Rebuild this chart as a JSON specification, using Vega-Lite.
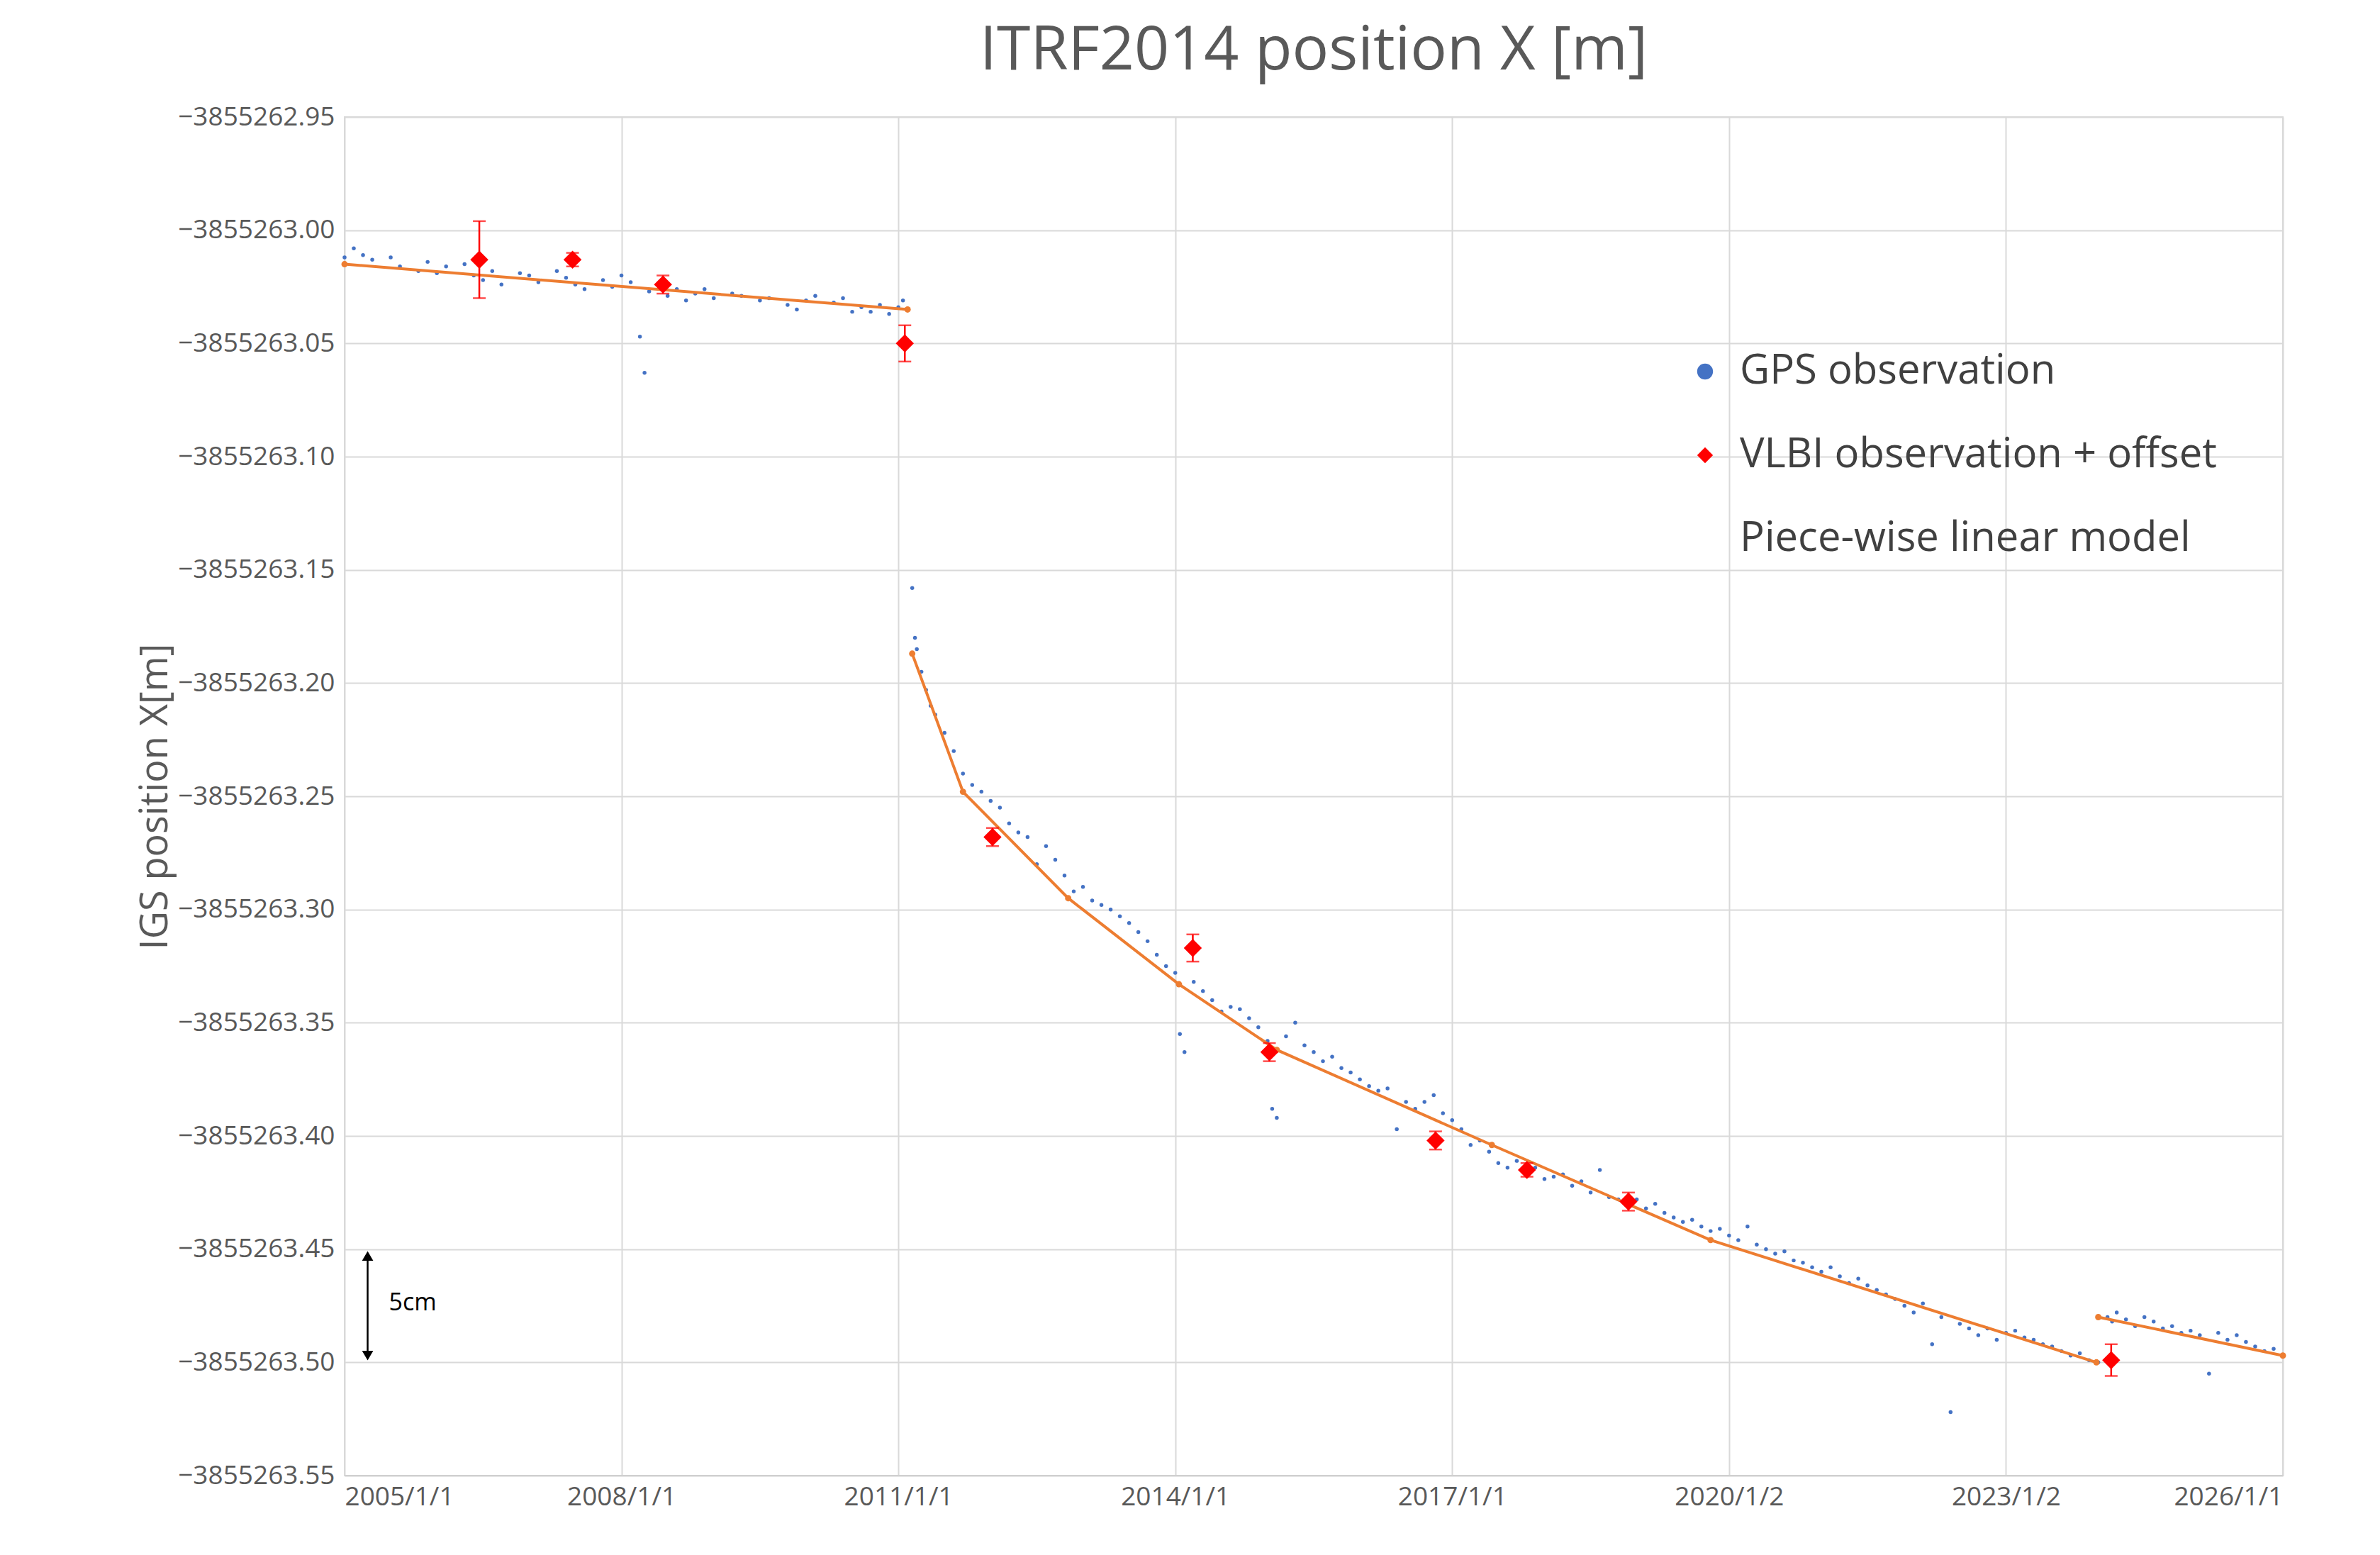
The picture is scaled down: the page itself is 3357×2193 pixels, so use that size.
{
  "$schema": "https://vega.github.io/schema/vega-lite/v6.json",
  "autosize": {"type": "none"},
  "padding": {"left": 486, "top": 165, "right": 137, "bottom": 112},
  "width": 2734,
  "height": 1916,
  "background": "white",
  "title": {"text": "ITRF2014 position X [m]", "fontSize": 86, "font": "Open Sans", "fontWeight": "normal", "color": "#595959", "offset": 30},
  "config": {
    "font": "Open Sans",
    "view": {"stroke": "#D9D9D9", "strokeWidth": 2},
    "axis": {"labelFont": "Open Sans", "titleFont": "Open Sans", "labelColor": "#595959", "titleColor": "#595959", "gridColor": "#D9D9D9", "gridWidth": 2, "domainColor": "#BFBFBF", "tickColor": "#BFBFBF", "titleFontWeight": "normal", "labelLimit": 0, "labelOverlap": false}
  },
  "datasets": {
    "gps": [
      {"t": 2005.0, "v": -3855263.012}, {"t": 2005.1, "v": -3855263.008}, {"t": 2005.2, "v": -3855263.011}, {"t": 2005.3, "v": -3855263.013},
      {"t": 2005.5, "v": -3855263.012}, {"t": 2005.6, "v": -3855263.016}, {"t": 2005.8, "v": -3855263.018}, {"t": 2005.9, "v": -3855263.014},
      {"t": 2006.0, "v": -3855263.019}, {"t": 2006.1, "v": -3855263.016}, {"t": 2006.3, "v": -3855263.015}, {"t": 2006.4, "v": -3855263.020},
      {"t": 2006.5, "v": -3855263.022}, {"t": 2006.6, "v": -3855263.018}, {"t": 2006.7, "v": -3855263.024}, {"t": 2006.9, "v": -3855263.019},
      {"t": 2007.0, "v": -3855263.020}, {"t": 2007.1, "v": -3855263.023}, {"t": 2007.3, "v": -3855263.018}, {"t": 2007.4, "v": -3855263.021},
      {"t": 2007.5, "v": -3855263.024}, {"t": 2007.6, "v": -3855263.026}, {"t": 2007.8, "v": -3855263.022}, {"t": 2007.9, "v": -3855263.025},
      {"t": 2008.0, "v": -3855263.020}, {"t": 2008.1, "v": -3855263.023}, {"t": 2008.2, "v": -3855263.047}, {"t": 2008.25, "v": -3855263.063},
      {"t": 2008.3, "v": -3855263.027}, {"t": 2008.4, "v": -3855263.024}, {"t": 2008.5, "v": -3855263.029}, {"t": 2008.6, "v": -3855263.026},
      {"t": 2008.7, "v": -3855263.031}, {"t": 2008.8, "v": -3855263.028}, {"t": 2008.9, "v": -3855263.026}, {"t": 2009.0, "v": -3855263.030},
      {"t": 2009.2, "v": -3855263.028}, {"t": 2009.3, "v": -3855263.029}, {"t": 2009.5, "v": -3855263.031}, {"t": 2009.6, "v": -3855263.030},
      {"t": 2009.8, "v": -3855263.033}, {"t": 2009.9, "v": -3855263.035}, {"t": 2010.0, "v": -3855263.031}, {"t": 2010.1, "v": -3855263.029},
      {"t": 2010.3, "v": -3855263.032}, {"t": 2010.4, "v": -3855263.030}, {"t": 2010.5, "v": -3855263.036}, {"t": 2010.6, "v": -3855263.034},
      {"t": 2010.7, "v": -3855263.036}, {"t": 2010.8, "v": -3855263.033}, {"t": 2010.9, "v": -3855263.037}, {"t": 2011.0, "v": -3855263.034},
      {"t": 2011.05, "v": -3855263.031},
      {"t": 2011.15, "v": -3855263.158}, {"t": 2011.18, "v": -3855263.180}, {"t": 2011.2, "v": -3855263.185}, {"t": 2011.25, "v": -3855263.195},
      {"t": 2011.3, "v": -3855263.203}, {"t": 2011.35, "v": -3855263.210}, {"t": 2011.4, "v": -3855263.214}, {"t": 2011.5, "v": -3855263.222},
      {"t": 2011.6, "v": -3855263.230}, {"t": 2011.7, "v": -3855263.240}, {"t": 2011.8, "v": -3855263.245}, {"t": 2011.9, "v": -3855263.248},
      {"t": 2012.0, "v": -3855263.252}, {"t": 2012.1, "v": -3855263.255}, {"t": 2012.2, "v": -3855263.262}, {"t": 2012.3, "v": -3855263.266},
      {"t": 2012.4, "v": -3855263.268}, {"t": 2012.5, "v": -3855263.280}, {"t": 2012.6, "v": -3855263.272}, {"t": 2012.7, "v": -3855263.278},
      {"t": 2012.8, "v": -3855263.285}, {"t": 2012.9, "v": -3855263.292}, {"t": 2013.0, "v": -3855263.290}, {"t": 2013.1, "v": -3855263.296},
      {"t": 2013.2, "v": -3855263.298}, {"t": 2013.3, "v": -3855263.300}, {"t": 2013.4, "v": -3855263.303}, {"t": 2013.5, "v": -3855263.306},
      {"t": 2013.6, "v": -3855263.310}, {"t": 2013.7, "v": -3855263.314}, {"t": 2013.8, "v": -3855263.320}, {"t": 2013.9, "v": -3855263.325},
      {"t": 2014.0, "v": -3855263.328}, {"t": 2014.05, "v": -3855263.355}, {"t": 2014.1, "v": -3855263.363}, {"t": 2014.2, "v": -3855263.332},
      {"t": 2014.3, "v": -3855263.336}, {"t": 2014.4, "v": -3855263.340}, {"t": 2014.5, "v": -3855263.345}, {"t": 2014.6, "v": -3855263.343},
      {"t": 2014.7, "v": -3855263.344}, {"t": 2014.8, "v": -3855263.348}, {"t": 2014.9, "v": -3855263.352}, {"t": 2015.0, "v": -3855263.358},
      {"t": 2015.05, "v": -3855263.388}, {"t": 2015.1, "v": -3855263.392}, {"t": 2015.2, "v": -3855263.356}, {"t": 2015.3, "v": -3855263.350},
      {"t": 2015.4, "v": -3855263.360}, {"t": 2015.5, "v": -3855263.363}, {"t": 2015.6, "v": -3855263.367}, {"t": 2015.7, "v": -3855263.365},
      {"t": 2015.8, "v": -3855263.370}, {"t": 2015.9, "v": -3855263.372}, {"t": 2016.0, "v": -3855263.375}, {"t": 2016.1, "v": -3855263.378},
      {"t": 2016.2, "v": -3855263.380}, {"t": 2016.3, "v": -3855263.379}, {"t": 2016.4, "v": -3855263.397}, {"t": 2016.5, "v": -3855263.385},
      {"t": 2016.6, "v": -3855263.388}, {"t": 2016.7, "v": -3855263.385}, {"t": 2016.8, "v": -3855263.382}, {"t": 2016.9, "v": -3855263.390},
      {"t": 2017.0, "v": -3855263.393}, {"t": 2017.1, "v": -3855263.397}, {"t": 2017.2, "v": -3855263.404}, {"t": 2017.3, "v": -3855263.402},
      {"t": 2017.4, "v": -3855263.407}, {"t": 2017.5, "v": -3855263.412}, {"t": 2017.6, "v": -3855263.414}, {"t": 2017.7, "v": -3855263.411},
      {"t": 2017.8, "v": -3855263.416}, {"t": 2017.9, "v": -3855263.414}, {"t": 2018.0, "v": -3855263.419}, {"t": 2018.1, "v": -3855263.418},
      {"t": 2018.2, "v": -3855263.417}, {"t": 2018.3, "v": -3855263.422}, {"t": 2018.4, "v": -3855263.420}, {"t": 2018.5, "v": -3855263.425},
      {"t": 2018.6, "v": -3855263.415}, {"t": 2018.7, "v": -3855263.427}, {"t": 2018.8, "v": -3855263.428}, {"t": 2018.9, "v": -3855263.430},
      {"t": 2019.0, "v": -3855263.428}, {"t": 2019.1, "v": -3855263.432}, {"t": 2019.2, "v": -3855263.430}, {"t": 2019.3, "v": -3855263.434},
      {"t": 2019.4, "v": -3855263.436}, {"t": 2019.5, "v": -3855263.438}, {"t": 2019.6, "v": -3855263.437}, {"t": 2019.7, "v": -3855263.440},
      {"t": 2019.8, "v": -3855263.442}, {"t": 2019.9, "v": -3855263.441}, {"t": 2020.0, "v": -3855263.444}, {"t": 2020.1, "v": -3855263.446},
      {"t": 2020.2, "v": -3855263.440}, {"t": 2020.3, "v": -3855263.448}, {"t": 2020.4, "v": -3855263.450}, {"t": 2020.5, "v": -3855263.452},
      {"t": 2020.6, "v": -3855263.451}, {"t": 2020.7, "v": -3855263.455}, {"t": 2020.8, "v": -3855263.456}, {"t": 2020.9, "v": -3855263.458},
      {"t": 2021.0, "v": -3855263.460}, {"t": 2021.1, "v": -3855263.458}, {"t": 2021.2, "v": -3855263.462}, {"t": 2021.3, "v": -3855263.465},
      {"t": 2021.4, "v": -3855263.463}, {"t": 2021.5, "v": -3855263.466}, {"t": 2021.6, "v": -3855263.468}, {"t": 2021.7, "v": -3855263.470},
      {"t": 2021.8, "v": -3855263.472}, {"t": 2021.9, "v": -3855263.475}, {"t": 2022.0, "v": -3855263.478}, {"t": 2022.1, "v": -3855263.474},
      {"t": 2022.2, "v": -3855263.492}, {"t": 2022.3, "v": -3855263.480}, {"t": 2022.4, "v": -3855263.522}, {"t": 2022.5, "v": -3855263.483},
      {"t": 2022.6, "v": -3855263.485}, {"t": 2022.7, "v": -3855263.488}, {"t": 2022.8, "v": -3855263.485}, {"t": 2022.9, "v": -3855263.490},
      {"t": 2023.0, "v": -3855263.487}, {"t": 2023.1, "v": -3855263.486}, {"t": 2023.2, "v": -3855263.489}, {"t": 2023.3, "v": -3855263.490},
      {"t": 2023.4, "v": -3855263.492}, {"t": 2023.5, "v": -3855263.493}, {"t": 2023.6, "v": -3855263.495}, {"t": 2023.7, "v": -3855263.497},
      {"t": 2023.8, "v": -3855263.496}, {"t": 2023.9, "v": -3855263.499}, {"t": 2024.0, "v": -3855263.500},
      {"t": 2024.1, "v": -3855263.480}, {"t": 2024.15, "v": -3855263.482}, {"t": 2024.2, "v": -3855263.478}, {"t": 2024.3, "v": -3855263.481},
      {"t": 2024.4, "v": -3855263.484}, {"t": 2024.5, "v": -3855263.480}, {"t": 2024.6, "v": -3855263.482}, {"t": 2024.7, "v": -3855263.485},
      {"t": 2024.8, "v": -3855263.484}, {"t": 2024.9, "v": -3855263.487}, {"t": 2025.0, "v": -3855263.486}, {"t": 2025.1, "v": -3855263.488},
      {"t": 2025.2, "v": -3855263.505}, {"t": 2025.3, "v": -3855263.487}, {"t": 2025.4, "v": -3855263.490}, {"t": 2025.5, "v": -3855263.488},
      {"t": 2025.6, "v": -3855263.491}, {"t": 2025.7, "v": -3855263.493}, {"t": 2025.8, "v": -3855263.495}, {"t": 2025.9, "v": -3855263.494},
      {"t": 2026.0, "v": -3855263.497}
    ],
    "model": [
      {"seg": 1, "t": 2005.0, "v": -3855263.015}, {"seg": 1, "t": 2011.1, "v": -3855263.035},
      {"seg": 2, "t": 2011.15, "v": -3855263.187}, {"seg": 2, "t": 2011.7, "v": -3855263.248}, {"seg": 2, "t": 2012.84, "v": -3855263.295},
      {"seg": 2, "t": 2014.04, "v": -3855263.333}, {"seg": 2, "t": 2015.1, "v": -3855263.362}, {"seg": 2, "t": 2017.43, "v": -3855263.404},
      {"seg": 2, "t": 2019.8, "v": -3855263.446}, {"seg": 2, "t": 2023.98, "v": -3855263.500},
      {"seg": 3, "t": 2024.0, "v": -3855263.480}, {"seg": 3, "t": 2026.0, "v": -3855263.497}
    ],
    "vlbi": [
      {"t": 2006.46, "v": -3855263.013, "lo": -3855263.030, "hi": -3855262.996},
      {"t": 2007.47, "v": -3855263.013, "lo": -3855263.016, "hi": -3855263.010},
      {"t": 2008.45, "v": -3855263.024, "lo": -3855263.028, "hi": -3855263.020},
      {"t": 2011.07, "v": -3855263.050, "lo": -3855263.058, "hi": -3855263.042},
      {"t": 2012.02, "v": -3855263.268, "lo": -3855263.272, "hi": -3855263.264},
      {"t": 2014.19, "v": -3855263.317, "lo": -3855263.323, "hi": -3855263.311},
      {"t": 2015.02, "v": -3855263.363, "lo": -3855263.367, "hi": -3855263.359},
      {"t": 2016.82, "v": -3855263.402, "lo": -3855263.406, "hi": -3855263.398},
      {"t": 2017.81, "v": -3855263.415, "lo": -3855263.418, "hi": -3855263.412},
      {"t": 2018.91, "v": -3855263.429, "lo": -3855263.433, "hi": -3855263.425},
      {"t": 2024.14, "v": -3855263.499, "lo": -3855263.506, "hi": -3855263.492}
    ],
    "scale": [
      {"t": 2005.25, "lo": -3855263.497, "hi": -3855263.453, "mid": -3855263.474, "label": "5cm"}
    ]
  },
  "encoding": {
    "x": {"field": "t", "type": "quantitative", "scale": {"domain": [2005, 2026], "nice": false, "zero": false},
      "axis": {"title": null, "values": [2005, 2008, 2011, 2014, 2017, 2020, 2023, 2026], "labelFontSize": 37, "labelPadding": 12, "tickSize": 0,
        "labelExpr": "datum.value == 2020 || datum.value == 2023 ? datum.value + '/1/2' : datum.value + '/1/1'"}}
  },
  "layer": [
    {
      "data": {"name": "gps"},
      "mark": {"type": "point", "filled": true, "size": 30, "opacity": 1},
      "encoding": {
        "y": {"field": "v", "type": "quantitative", "scale": {"domain": [-3855263.55, -3855262.95], "nice": false, "zero": false},
          "axis": {"title": "IGS position X[m]", "titleFontSize": 54, "titlePadding": 40, "format": ".2f", "labelFontSize": 37, "values": [-3855263.55, -3855263.5, -3855263.45, -3855263.4, -3855263.35, -3855263.3, -3855263.25, -3855263.2, -3855263.15, -3855263.1, -3855263.05, -3855263.0, -3855262.95], "tickSize": 0, "labelPadding": 14, "domain": false}},
        "color": {"datum": "GPS observation", "type": "nominal",
          "scale": {"domain": ["GPS observation", "VLBI observation + offset", "Piece-wise linear model"], "range": ["#4472C4", "#FF0000", "#ED7D31"]},
          "legend": {"title": null, "orient": "none", "legendX": 1890, "legendY": 330, "labelFontSize": 58, "labelColor": "#404040", "labelFont": "Open Sans",
            "labelLimit": 0, "rowPadding": 60, "symbolSize": 500, "labelOffset": 20,
            "encode": {"symbols": {"update": {
              "stroke": {"scale": "color", "field": "value"},
              "strokeWidth": {"signal": "datum.value == 'Piece-wise linear model' ? 5 : 0"},
              "size": {"signal": "datum.value == 'GPS observation' ? 40 : datum.value == 'VLBI observation + offset' ? 500 : 1200"}
            }}}}},
        "shape": {"datum": "GPS observation", "type": "nominal",
          "scale": {"domain": ["GPS observation", "VLBI observation + offset", "Piece-wise linear model"], "range": ["circle", "diamond", "M-1,0L1,0"]},
          "legend": null}
      }
    },
    {
      "data": {"name": "model"},
      "mark": {"type": "line", "strokeWidth": 4, "color": "#ED7D31", "point": {"filled": true, "size": 80, "color": "#ED7D31"}},
      "encoding": {"y": {"field": "v", "type": "quantitative"}, "detail": {"field": "seg"}}
    },
    {
      "data": {"name": "vlbi"},
      "mark": {"type": "rule", "color": "#FF0000", "strokeWidth": 2.5},
      "encoding": {"y": {"field": "lo", "type": "quantitative"}, "y2": {"field": "hi"}}
    },
    {
      "data": {"name": "vlbi"},
      "mark": {"type": "tick", "orient": "horizontal", "color": "#FF0000", "size": 18, "thickness": 2.5},
      "encoding": {"y": {"field": "lo", "type": "quantitative"}}
    },
    {
      "data": {"name": "vlbi"},
      "mark": {"type": "tick", "orient": "horizontal", "color": "#FF0000", "size": 18, "thickness": 2.5},
      "encoding": {"y": {"field": "hi", "type": "quantitative"}}
    },
    {
      "data": {"name": "vlbi"},
      "mark": {"type": "point", "filled": true, "size": 650, "opacity": 1},
      "encoding": {
        "y": {"field": "v", "type": "quantitative"},
        "color": {"datum": "VLBI observation + offset", "type": "nominal"},
        "shape": {"datum": "VLBI observation + offset", "type": "nominal"}
      }
    },
    {
      "data": {"values": [{"t": 2030, "v": -3855263.0}]},
      "mark": {"type": "point", "filled": true, "size": 0, "opacity": 0},
      "encoding": {
        "y": {"field": "v", "type": "quantitative"},
        "color": {"datum": "Piece-wise linear model", "type": "nominal"},
        "shape": {"datum": "Piece-wise linear model", "type": "nominal"}
      }
    },
    {
      "data": {"name": "scale"},
      "mark": {"type": "rule", "color": "black", "strokeWidth": 2.5},
      "encoding": {"y": {"field": "lo", "type": "quantitative"}, "y2": {"field": "hi"}}
    },
    {
      "data": {"name": "scale"},
      "mark": {"type": "point", "shape": "triangle-up", "filled": true, "color": "black", "size": 250, "opacity": 1},
      "encoding": {"y": {"field": "hi", "type": "quantitative"}}
    },
    {
      "data": {"name": "scale"},
      "mark": {"type": "point", "shape": "triangle-down", "filled": true, "color": "black", "size": 250, "opacity": 1},
      "encoding": {"y": {"field": "lo", "type": "quantitative"}}
    },
    {
      "data": {"name": "scale"},
      "mark": {"type": "text", "align": "left", "dx": 30, "fontSize": 34, "color": "black", "font": "Open Sans"},
      "encoding": {"y": {"field": "mid", "type": "quantitative"}, "text": {"field": "label"}}
    }
  ]
}
